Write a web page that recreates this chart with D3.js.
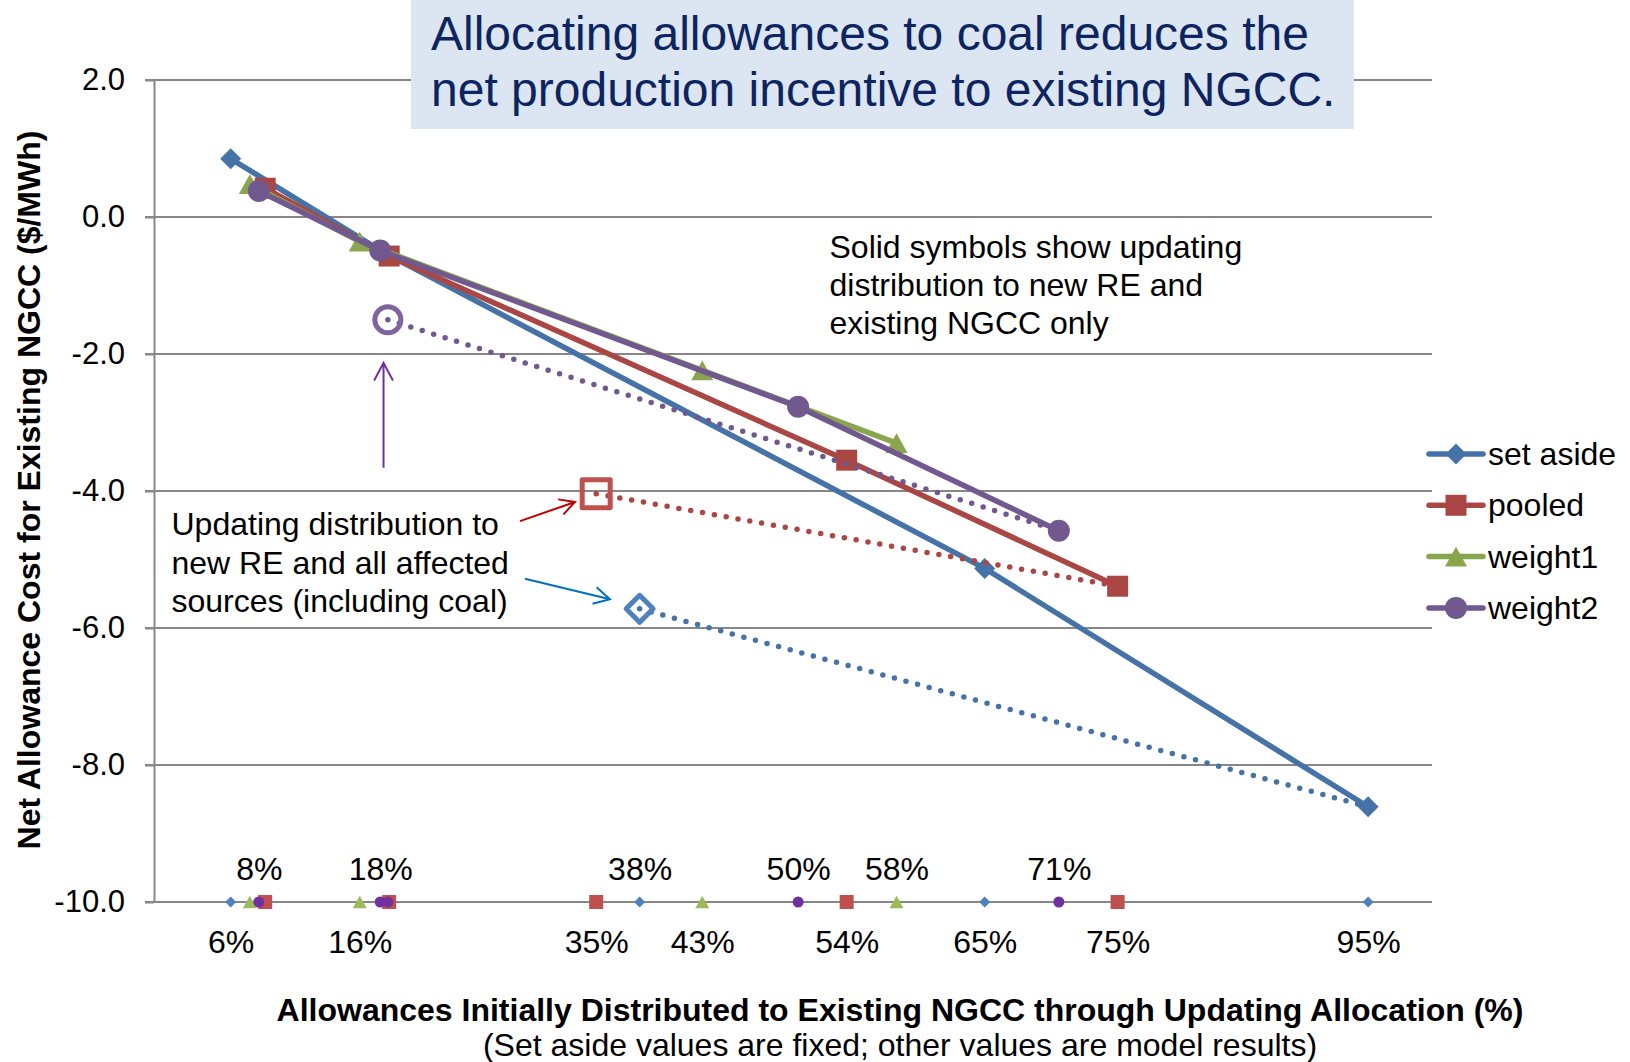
<!DOCTYPE html>
<html>
<head>
<meta charset="utf-8">
<script src="https://cdn.jsdelivr.net/npm/d3@7"></script>
<style>
  html, body { margin: 0; padding: 0; background: #ffffff; }
  svg text { font-family: "Liberation Sans", Arial, Helvetica, sans-serif; }
</style>
</head>
<body>
<svg id="chart" width="1630" height="1062"></svg>
<script>
// ---- Data -------------------------------------------------------------
// Allowance-allocation cases
const seriesNames = ["set aside", "pooled", "weight1", "weight2"];

// Updating distribution to new RE and existing NGCC only:
// share of allowances to existing NGCC (%) and net allowance cost ($/MWh)
const setAsideX = [6, 18, 65, 95];
const setAsideY = [0.85, -0.52, -5.13, -8.61];
const pooledX   = [8.7, 18.4, 54.2, 75.4];
const pooledY   = [0.42, -0.57, -3.55, -5.39];
const weight1X  = [7.5, 16.1, 42.9, 58.1];
const weight1Y  = [0.48, -0.36, -2.24, -3.30];
const weight2X  = [8.2, 17.7, 50.4, 70.8];
const weight2Y  = [0.38, -0.49, -2.77, -4.58];

// Updating distribution to new RE and all affected sources (including coal)
const allSourcesSeries = ["set aside", "pooled", "weight2"];
const allSourcesX = [38, 34.6, 18.3];
const allSourcesY = [-5.72, -4.04, -1.50];

// Percent labels along the horizontal axis (alternating rows)
const axisLabelsAbove = [8.2, 17.7, 38, 50.4, 58.1, 70.8];
const axisLabelsBelow = [6, 16.1, 34.6, 42.9, 54.2, 65, 75.4, 95];

// Vertical axis ticks ($/MWh)
const yTicks = [2, 0, -2, -4, -6, -8, -10];

// ---- Styling ----------------------------------------------------------
const lineColors  = ["#4572A7", "#AA4643", "#89A54E", "#71588F"];
const hollowColors = ["#4F81BD", "#C0504D", "#9BBB59", "#8064A2"];
const stripColors = ["#4F81BD", "#C0504D", "#9BBB59", "#7030A0"];
const markerKinds = ["diamond", "square", "triangle", "circle"];
const markerSizes = [21, 21, 22, 22];
const stripSizes  = [11, 14, 14, 11];
const gridColor = "#878787";

const xsBySeries = [setAsideX, pooledX, weight1X, weight2X];
const ysBySeries = [setAsideY, pooledY, weight1Y, weight2Y];

const series = seriesNames.map((name, i) => ({
  name,
  points: xsBySeries[i].map((v, j) => [v, ysBySeries[i][j]]),
  color: lineColors[i],
  hollow: hollowColors[i],
  strip: stripColors[i],
  kind: markerKinds[i],
  size: markerSizes[i],
  stripSize: stripSizes[i]
}));

// ---- Scales -----------------------------------------------------------
const svg = d3.select("#chart");
const x = d3.scaleLinear().domain([0, 100]).range([154, 1432]);
const y = d3.scaleLinear().domain([-10, 2]).range([902, 80]);

// Marker outline for a given kind, s = nominal width in px
function markerPath(kind, s) {
  const p = d3.path();
  const h = s / 2;
  if (kind === "diamond") {
    p.moveTo(0, -h); p.lineTo(h, 0); p.lineTo(0, h); p.lineTo(-h, 0); p.closePath();
  } else if (kind === "square") {
    p.rect(-h, -h, s, s);
  } else if (kind === "triangle") {
    const th = s * 0.9;
    p.moveTo(0, -th / 2); p.lineTo(h, th / 2); p.lineTo(-h, th / 2); p.closePath();
  } else {
    p.moveTo(h, 0); p.arc(0, 0, h, 0, 2 * Math.PI);
  }
  return p.toString();
}

// ---- Gridlines --------------------------------------------------------
svg.append("g").attr("class", "grid")
  .selectAll("line").data(yTicks).join("line")
  .attr("x1", x(0) - 9).attr("x2", x(100))
  .attr("y1", d => y(d)).attr("y2", d => y(d))
  .attr("stroke", gridColor).attr("stroke-width", 2);

// ---- Vertical axis ----------------------------------------------------
const yAxisG = svg.append("g")
  .attr("transform", `translate(${x(0)},0)`)
  .call(d3.axisLeft(y).tickValues(yTicks)
    .tickFormat(d => d.toFixed(1))
    .tickSizeInner(9).tickSizeOuter(0).tickPadding(20));
yAxisG.attr("font-family", null).attr("font-size", null);
yAxisG.select(".domain").attr("stroke", gridColor).attr("stroke-width", 2);
yAxisG.selectAll(".tick line").attr("stroke", gridColor).attr("stroke-width", 2);
yAxisG.selectAll(".tick text").attr("fill", "#000").attr("font-size", 31);

// ---- Percent labels on the horizontal axis ----------------------------
const pct = d => Math.round(d) + "%";
const xBelow = svg.append("g")
  .attr("transform", `translate(0,${y(-10)})`)
  .call(d3.axisBottom(x).tickValues(axisLabelsBelow).tickFormat(pct)
    .tickSize(0).tickPadding(28));
const xAbove = svg.append("g")
  .attr("transform", `translate(0,${y(-10)})`)
  .call(d3.axisTop(x).tickValues(axisLabelsAbove).tickFormat(pct)
    .tickSize(0).tickPadding(22));
[xBelow, xAbove].forEach(g => {
  g.attr("font-family", null).attr("font-size", null);
  g.select(".domain").remove();
  g.selectAll(".tick text").attr("fill", "#000").attr("font-size", 32);
});

// ---- Title box --------------------------------------------------------
svg.append("rect")
  .attr("x", 411).attr("y", 0).attr("width", 943).attr("height", 129)
  .attr("fill", "#DCE6F2");
const title = svg.append("text")
  .attr("x", 431).attr("font-size", 48).attr("fill", "#0C2461");
title.append("tspan").attr("x", 431).attr("y", 50)
  .text("Allocating allowances to coal reduces the");
title.append("tspan").attr("x", 431).attr("y", 106)
  .text("net production incentive to existing NGCC.");

// ---- Solid series -----------------------------------------------------
const line = d3.line().x(d => x(d[0])).y(d => y(d[1]));
series.forEach(s => {
  const g = svg.append("g").attr("class", "series");
  g.append("path")
    .attr("d", line(s.points))
    .attr("fill", "none").attr("stroke", s.color)
    .attr("stroke-width", 5.5).attr("stroke-linejoin", "round");
  g.selectAll("path.marker").data(s.points).join("path")
    .attr("class", "marker")
    .attr("d", markerPath(s.kind, s.size))
    .attr("transform", d => `translate(${x(d[0])},${y(d[1])})`)
    .attr("fill", s.color);
});

// ---- Coal-inclusive cases: dotted lines and hollow markers ------------
allSourcesSeries.forEach((name, k) => {
  const s = series.find(d => d.name === name);
  const start = [allSourcesX[k], allSourcesY[k]];
  const end = s.points[s.points.length - 1];
  const g = svg.append("g").attr("class", "all-sources");
  g.append("path")
    .attr("d", line([start, end]))
    .attr("fill", "none").attr("stroke", s.color)
    .attr("stroke-width", 5.5).attr("stroke-linecap", "round")
    .attr("stroke-dasharray", "0,12");
  const hollowSize = { diamond: 27, square: 28, circle: 26 }[s.kind];
  g.append("path")
    .attr("d", markerPath(s.kind, hollowSize))
    .attr("transform", `translate(${x(start[0])},${y(start[1])})`)
    .attr("fill", "none").attr("stroke", s.hollow)
    .attr("stroke-width", 5).attr("stroke-linejoin", "round");
});

// ---- Distribution strip along the axis --------------------------------
series.forEach(s => {
  const k = allSourcesSeries.indexOf(s.name);
  const xs = s.points.map(d => d[0]);
  if (k >= 0) xs.push(allSourcesX[k]);
  svg.append("g").attr("class", "strip")
    .selectAll("path").data(xs).join("path")
    .attr("d", markerPath(s.kind, s.stripSize))
    .attr("transform", d => `translate(${x(d)},${y(-10)})`)
    .attr("fill", s.strip);
});

// ---- Annotations ------------------------------------------------------
function multiline(xPos, baselines, lines) {
  const t = svg.append("text").attr("font-size", 32).attr("fill", "#000");
  lines.forEach((str, i) => t.append("tspan").attr("x", xPos).attr("y", baselines[i]).text(str));
}
multiline(829.5, [258, 296, 334], [
  "Solid symbols show updating",
  "distribution to new RE and",
  "existing NGCC only"
]);
multiline(171.5, [535, 573.5, 612], [
  "Updating distribution to",
  "new RE and all affected",
  "sources (including coal)"
]);

// Open-headed arrows, given in data coordinates
function arrow(x0, y0, x1, y1, color, headLen) {
  const ax = x(x0), ay = y(y0), bx = x(x1), by = y(y1);
  const ang = Math.atan2(by - ay, bx - ax);
  const spread = 28 * Math.PI / 180;
  const p = d3.path();
  p.moveTo(ax, ay); p.lineTo(bx, by);
  p.moveTo(bx - headLen * Math.cos(ang - spread), by - headLen * Math.sin(ang - spread));
  p.lineTo(bx, by);
  p.lineTo(bx - headLen * Math.cos(ang + spread), by - headLen * Math.sin(ang + spread));
  svg.append("path").attr("d", p.toString())
    .attr("fill", "none").attr("stroke", color).attr("stroke-width", 2);
}
arrow(17.96, -3.66, 17.96, -2.13, "#7030A0", 20);
arrow(28.64, -4.44, 32.94, -4.16, "#C00000", 17);
arrow(29.03, -5.28, 35.68, -5.58, "#0070C0", 18);

// ---- Axis titles ------------------------------------------------------
svg.append("text")
  .attr("transform", "translate(39.5,490) rotate(-90)")
  .attr("text-anchor", "middle").attr("font-size", 32).attr("font-weight", "bold")
  .attr("fill", "#000")
  .text("Net Allowance Cost for Existing NGCC ($/MWh)");
svg.append("text")
  .attr("x", 900).attr("y", 1021)
  .attr("text-anchor", "middle").attr("font-size", 32).attr("font-weight", "bold")
  .attr("fill", "#000")
  .text("Allowances Initially Distributed to Existing NGCC through Updating Allocation (%)");
svg.append("text")
  .attr("x", 900).attr("y", 1056)
  .attr("text-anchor", "middle").attr("font-size", 32).attr("fill", "#000")
  .text("(Set aside values are fixed; other values are model results)");

// ---- Legend -----------------------------------------------------------
const legend = svg.append("g").attr("class", "legend")
  .selectAll("g").data(series).join("g")
  .attr("transform", (d, i) => `translate(1429,${454 + i * 51.3})`);
legend.append("line")
  .attr("x1", 0).attr("x2", 54).attr("y1", 0).attr("y2", 0)
  .attr("stroke", d => d.color).attr("stroke-width", 5.5).attr("stroke-linecap", "round");
legend.append("path")
  .attr("d", d => markerPath(d.kind, d.size))
  .attr("transform", "translate(27,0)")
  .attr("fill", d => d.color);
legend.append("text")
  .attr("x", 59).attr("y", 11).attr("font-size", 32).attr("fill", "#000")
  .text(d => d.name);
</script>
</body>
</html>
